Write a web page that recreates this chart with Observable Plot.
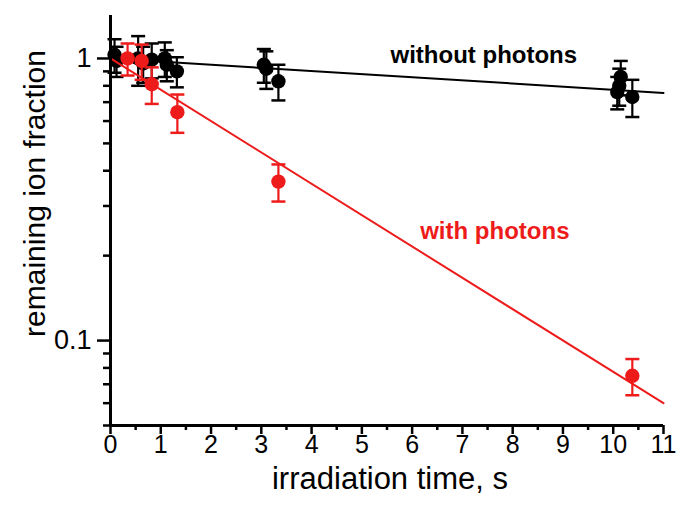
<!DOCTYPE html>
<html><head><meta charset="utf-8">
<script src="https://cdn.jsdelivr.net/npm/d3@7"></script>
<script src="https://cdn.jsdelivr.net/npm/@observablehq/plot@0.6"></script>
<style>body{margin:0;background:#fff} svg{font-family:"Liberation Sans",Arial,sans-serif}</style>
</head><body><div id="chart"></div>
<script>
// "without photons" measurements: time (s), remaining fraction, error
const blackTime  = [0.08, 0.12, 0.55, 0.65, 0.82, 1.08, 1.12, 1.32, 3.05, 3.10, 3.34, 10.08, 10.12, 10.15, 10.38];
const blackValue = [1.03, 0.98, 1.00, 0.96, 0.99, 1.00, 0.95, 0.90, 0.95, 0.92, 0.83, 0.76, 0.80, 0.86, 0.73];
const blackError = [0.14, 0.12, 0.20, 0.14, 0.14, 0.14, 0.12, 0.11, 0.13, 0.14, 0.12, 0.10, 0.12, 0.12, 0.11];
// "with photons" measurements
const redTime  = [0.34, 0.62, 0.82, 1.33, 3.34, 10.38];
const redValue = [1.00, 0.98, 0.81, 0.645, 0.366, 0.075];
const redError = [0.13, 0.14, 0.12, 0.10, 0.055, 0.011];
// exponential fits (end points)
const fitTime  = [0, 11];
const fitBlack = [1.0, 0.755];
const fitRed   = [1.0, 0.06];
// axes
const xMajorTicks = [0,1,2,3,4,5,6,7,8,9,10,11];
const xMinorTicks = [0.5,1.5,2.5,3.5,4.5,5.5,6.5,7.5,8.5,9.5,10.5];
const yMajorTicks = [0.1, 1];
const yTickLabels = ["0.1", "1"];
const yMinorTicks = [0.05,0.06,0.07,0.08,0.09,0.2,0.3,0.4,0.5,0.6,0.7,0.8,0.9];
// annotations
const noteText  = ["without photons", "with photons"];
const noteX     = [5.57, 6.16];
const noteY     = [1.03, 0.244];
const noteColor = ["#000000", "#ee1b1b"];

const RED = "#ee1b1b", BLACK = "#000000";
const rows = (ts, vs, es) => ts.map((t, i) => ({t, v: vs[i], lo: vs[i] - es[i], hi: vs[i] + es[i]}));
const black = rows(blackTime, blackValue, blackError);
const red = rows(redTime, redValue, redError);
const fitB = fitTime.map((t, i) => ({t, v: fitBlack[i]}));
const fitR = fitTime.map((t, i) => ({t, v: fitRed[i]}));
const notes = noteText.map((s, i) => ({s, x: noteX[i], y: noteY[i], c: noteColor[i]}));

const cap = {draw(ctx, size) { const w = Math.sqrt(size / Math.PI); ctx.moveTo(-w, 0); ctx.lineTo(w, 0); }};

function series(data, color) {
  return [
    Plot.ruleX(data, {x: "t", y1: "lo", y2: "hi", stroke: color, strokeWidth: 2.2}),
    Plot.dot(data, {x: "t", y: "hi", symbol: cap, r: 7, fill: "none", stroke: color, strokeWidth: 2.5}),
    Plot.dot(data, {x: "t", y: "lo", symbol: cap, r: 7, fill: "none", stroke: color, strokeWidth: 2.5}),
    Plot.dot(data, {x: "t", y: "v", r: 7.2, fill: color, stroke: null})
  ];
}

const chart = Plot.plot({
  width: 687, height: 510,
  marginLeft: 110, marginRight: 24, marginTop: 15, marginBottom: 85,
  x: {domain: [0, 11], label: null},
  y: {type: "log", domain: [0.05, 1.42], label: null},
  style: {fontFamily: "Liberation Sans, Arial, sans-serif", background: "#fff", color: "#000"},
  marks: [
    Plot.line(fitB, {x: "t", y: "v", stroke: BLACK, strokeWidth: 2}),
    ...series(black, BLACK),
    Plot.line(fitR, {x: "t", y: "v", stroke: RED, strokeWidth: 2}),
    ...series(red, RED),
    Plot.axisX({ticks: xMinorTicks, tickSize: 5, tickFormat: () => "", strokeWidth: 2.5, label: null}),
    Plot.axisX({ticks: xMajorTicks, tickSize: 9, tickPadding: 1, tickFormat: d => String(d), fontSize: 25, strokeWidth: 2.5, label: null}),
    Plot.axisY({ticks: yMinorTicks, tickSize: 7, tickFormat: () => "", strokeWidth: 2.5, label: null}),
    Plot.axisY({ticks: yMajorTicks, tickSize: 13, tickPadding: 6, tickFormat: d => yTickLabels[yMajorTicks.indexOf(d)], fontSize: 27, strokeWidth: 2.5, label: null}),
    Plot.ruleX([0], {stroke: BLACK, strokeWidth: 3}),
    Plot.ruleY([0.05], {stroke: BLACK, strokeWidth: 3}),
    Plot.text(notes, {x: "x", y: "y", text: "s", fill: "c", textAnchor: "start", fontSize: 24, fontWeight: "bold"}),
    Plot.text(["irradiation time, s"], {frameAnchor: "bottom", dx: 3, dy: 54, fontSize: 31, lineAnchor: "middle", textAnchor: "middle"}),
    Plot.text(["remaining ion fraction"], {frameAnchor: "left", dx: -75, dy: -27, rotate: -90, fontSize: 30, lineAnchor: "middle", textAnchor: "middle"})
  ]
});
document.getElementById("chart").appendChild(chart);
</script>
</body></html>
